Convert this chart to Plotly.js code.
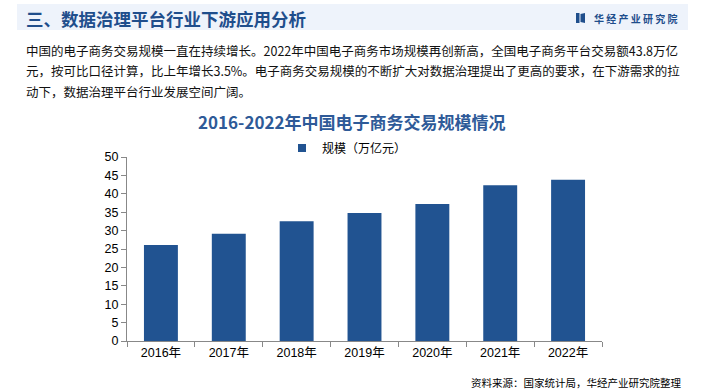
<!DOCTYPE html>
<html>
<head>
<meta charset="utf-8">
<script src="https://cdn.plot.ly/plotly-3.0.1.min.js"></script>
<style>html,body{margin:0;padding:0;background:#fff;}#chart{width:705px;height:392px;}</style>
</head>
<body>
<div id="chart"></div>
<script>
const years = ["2016年","2017年","2018年","2019年","2020年","2021年","2022年"];
const scale = [26.1, 29.16, 32.55, 34.81, 37.21, 42.3, 43.83];
const seriesName = "规模（万亿元）";
const yTicks = [0,5,10,15,20,25,30,35,40,45,50];
const headerText = "三、数据治理平台行业下游应用分析";
const brandText = "华 经 产 业 研 究 院";
const chartTitle = "2016-2022年中国电子商务交易规模情况";
const paragraphLines = [
  "中国的电子商务交易规模一直在持续增长。2022年中国电子商务市场规模再创新高，全国电子商务平台交易额43.8万亿",
  "元，按可比口径计算，比上年增长3.5%。电子商务交易规模的不断扩大对数据治理提出了更高的要求，在下游需求的拉",
  "动下，数据治理平台行业发展空间广阔。"
];
const sourceText = "资料来源：国家统计局，华经产业研究院整理";

const W = 705, H = 392;
const L = 127, R = 602, T = 157, B = 341;
const px = x => (x - L) / (R - L);
const py = y => (B - y) / (B - T);
const CJK = "Noto Sans CJK SC, sans-serif";
const ARIAL = "Liberation Sans, Arial, Noto Sans CJK SC, sans-serif";
const BAR_COLOR = "#215391";

const annotations = [
  {text: headerText, x: px(24), y: py(18), xanchor: "left", yanchor: "middle",
   font: {family: CJK, size: 17.5, color: "#1f4e8c", weight: 700}},
  {text: brandText, x: px(592), y: py(18), xanchor: "left", yanchor: "middle",
   font: {family: CJK, size: 10, color: "#1f4e8c", weight: 700}},
  {text: chartTitle, x: px(352), y: py(122), xanchor: "center", yanchor: "middle",
   font: {family: CJK, size: 17, color: "#2e5a98", weight: 700}},
  {text: sourceText, x: px(683), y: py(382), xanchor: "right", yanchor: "middle",
   font: {family: CJK, size: 10.5, color: "#000"}}
];
paragraphLines.forEach((t, i) => {
  annotations.push({text: t, x: px(24), y: py(50 + i * 20.5), xanchor: "left", yanchor: "middle",
    font: {family: CJK, size: 12.5, color: "#111"}});
});
annotations.forEach(a => { a.xref = "paper"; a.yref = "paper"; a.showarrow = false; });

const shapes = [
  {type: "rect", xref: "paper", yref: "paper", x0: px(17), x1: px(688), y0: py(4), y1: py(30),
   fillcolor: "#eef3fb", line: {width: 0}, layer: "below"},
  {type: "rect", xref: "paper", yref: "paper", x0: px(576), x1: px(579.5), y0: py(13), y1: py(23),
   fillcolor: "#1f4e8c", line: {width: 0}},
  {type: "path", xref: "paper", yref: "paper",
   path: `M ${px(580.5)} ${py(14)} L ${px(585)} ${py(13)} L ${px(585)} ${py(23)} L ${px(580.5)} ${py(22)} Z`,
   fillcolor: "#1f4e8c", line: {width: 0}}
];

const barTrace = {
  type: "bar", x: years, y: scale, name: seriesName, showlegend: false,
  marker: {color: BAR_COLOR}, width: 0.5, hoverinfo: "skip"
};
const legendTrace = {
  type: "scatter", mode: "markers", x: [years[0]], y: [null], name: seriesName,
  marker: {symbol: "square", size: 8, color: BAR_COLOR}, hoverinfo: "skip", showlegend: true
};

const layout = {
  width: W, height: H,
  margin: {l: L, r: W - R, t: T, b: H - B, pad: 0},
  paper_bgcolor: "#fff", plot_bgcolor: "rgba(0,0,0,0)",
  showlegend: true,
  legend: {orientation: "h", x: px(282), xanchor: "left", y: py(148), yanchor: "middle",
    font: {family: CJK, size: 12, color: "#000"}, itemwidth: 30, bgcolor: "rgba(0,0,0,0)",
    itemclick: false},
  xaxis: {type: "category", showline: true, linecolor: "#888", linewidth: 1,
    ticks: "outside", tickson: "boundaries", ticklen: 5, tickcolor: "#888",
    showgrid: false, zeroline: false,
    tickfont: {family: ARIAL, size: 12.5, color: "#000"}, fixedrange: true},
  yaxis: {range: [0, 50], tickvals: yTicks, showline: true, linecolor: "#888", linewidth: 1,
    ticks: "outside", ticklen: 5, tickcolor: "#888", showgrid: false, zeroline: false,
    tickfont: {family: ARIAL, size: 12.5, color: "#000"}, fixedrange: true},
  annotations: annotations, shapes: shapes
};

Plotly.newPlot("chart", [barTrace, legendTrace], layout, {displayModeBar: false, staticPlot: true});
</script>
</body>
</html>
